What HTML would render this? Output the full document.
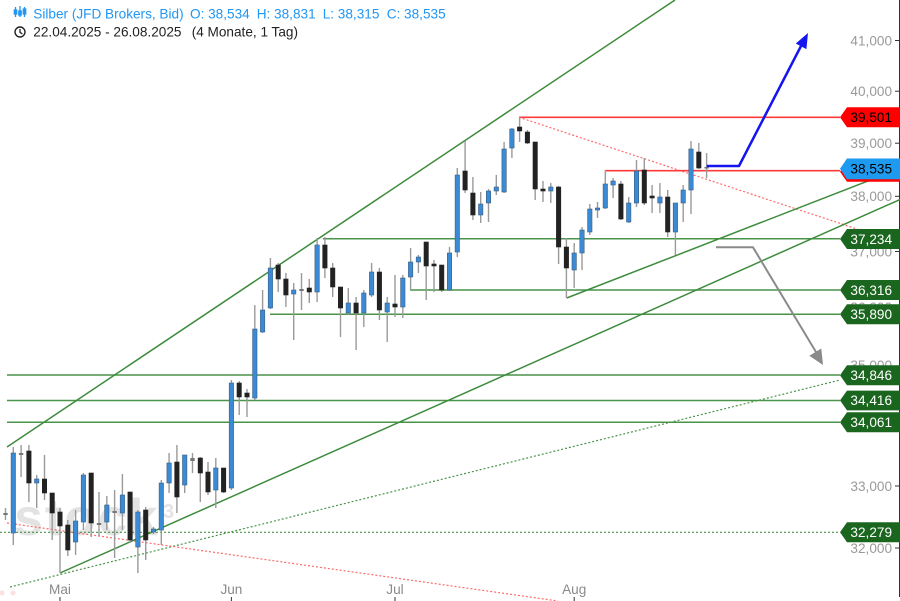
<!DOCTYPE html>
<html><head><meta charset="utf-8"><style>
html,body{margin:0;padding:0;background:#fff;}
svg{display:block;font-family:"Liberation Sans",Arial,sans-serif;}
.w{stroke:#9a9a9a;stroke-width:1.4}
.b{fill:#3a8ad6;stroke:#3d5f80;stroke-width:.6}
.k{fill:#222;stroke:#222;stroke-width:.6}
.d{fill:#777}
.gl{stroke:#4a944a;stroke-width:1.5;fill:none}
.ch{stroke:#3d8b3d;stroke-width:1.5;fill:none}
.tk{fill:#9a9a9a;font-size:13.6px;text-anchor:end}
.lb{font-size:13.6px;text-anchor:end}
</style></head><body>
<svg width="900" height="601" viewBox="0 0 900 601" xmlns="http://www.w3.org/2000/svg">
<rect width="900" height="601" fill="#fff"/>
<!-- watermark -->
<text x="14" y="535" font-size="52" font-weight="bold" fill="#e3e3e3" letter-spacing="2">stock</text>
<text x="163" y="518" font-size="20" font-weight="bold" fill="#e3e3e3">3</text>
<circle cx="2" cy="593" r="2.5" fill="#fde0e0"/><circle cx="13" cy="593" r="2.5" fill="#fde0e0"/>

<!-- y tick labels -->
<text class="tk" x="892" y="45.3">41,000</text>
<text class="tk" x="892" y="96">40,000</text>
<text class="tk" x="892" y="148">39,000</text>
<text class="tk" x="892" y="201">38,000</text>
<text class="tk" x="892" y="256.3">37,000</text>
<text class="tk" x="892" y="311.8">36,000</text>
<text class="tk" x="892" y="369.8">35,000</text>
<text class="tk" x="892" y="429.8">34,000</text>
<text class="tk" x="892" y="490.8">33,000</text>
<text class="tk" x="892" y="552.8">32,000</text>
<g stroke="#333" stroke-width="1">
<line x1="895" y1="40.5" x2="899" y2="40.5"/><line x1="895" y1="91.2" x2="899" y2="91.2"/>
<line x1="895" y1="143.2" x2="899" y2="143.2"/><line x1="895" y1="196.3" x2="899" y2="196.3"/>
<line x1="895" y1="251.5" x2="899" y2="251.5"/><line x1="895" y1="486" x2="899" y2="486"/>
<line x1="895" y1="548" x2="899" y2="548"/>
<line x1="899.5" y1="0" x2="899.5" y2="597"/>
</g>

<!-- horizontal lines -->
<line class="gl" x1="323" y1="238.8" x2="840" y2="238.8"/>
<line class="gl" x1="410" y1="290" x2="840" y2="290"/>
<line class="gl" x1="270" y1="314.2" x2="840" y2="314.2"/>
<line class="gl" x1="7" y1="375" x2="840" y2="375"/>
<line class="gl" x1="7" y1="400.5" x2="840" y2="400.5"/>
<line class="gl" x1="7" y1="422.3" x2="840" y2="422.3"/>
<line x1="0" y1="532.3" x2="840" y2="532.3" stroke="#4a944a" stroke-width="1.2" stroke-dasharray="2,2"/>
<line x1="10" y1="587" x2="840" y2="380" stroke="#4a944a" stroke-width="1.2" stroke-dasharray="2,2"/>
<line x1="7" y1="523" x2="558" y2="601" stroke="#ff6b6b" stroke-width="1.2" stroke-dasharray="2,2"/>
<line x1="519" y1="117.3" x2="860" y2="230" stroke="#ff6b6b" stroke-width="1.2" stroke-dasharray="2,2"/>
<line x1="519" y1="117.3" x2="840" y2="117.3" stroke="#ff3a3a" stroke-width="1.6"/>
<line x1="605" y1="170.7" x2="840" y2="170.7" stroke="#ff3a3a" stroke-width="1.6"/>
<!-- channel lines -->
<line class="ch" x1="7" y1="447" x2="675" y2="0"/>
<line class="ch" x1="60" y1="573" x2="900" y2="199.5"/>
<line class="ch" x1="566.7" y1="298" x2="900" y2="168.5"/>

<!-- candles -->
<g>
<g transform="translate(5.5)"><line class="w" y1="508" y2="520"/><rect class="d" x="-2.2" y="513" width="4.4" height="2"/></g>
<g transform="translate(13.3)"><line class="w" y1="447" y2="545"/><rect class="b" x="-2.2" y="453" width="4.4" height="80"/></g>
<g transform="translate(21.1)"><line class="w" y1="445" y2="477"/><rect class="d" x="-2.2" y="453" width="4.4" height="2"/></g>
<g transform="translate(28.9)"><line class="w" y1="445" y2="502"/><rect class="k" x="-2.2" y="451" width="4.4" height="32"/></g>
<g transform="translate(36.7)"><line class="w" y1="475" y2="508"/><rect class="b" x="-2.2" y="479" width="4.4" height="4"/></g>
<g transform="translate(44.5)"><line class="w" y1="455" y2="500"/><rect class="k" x="-2.2" y="479" width="4.4" height="14"/></g>
<g transform="translate(52.2)"><line class="w" y1="493" y2="540"/><rect class="k" x="-2.2" y="493" width="4.4" height="20"/></g>
<g transform="translate(60.0)"><line class="w" y1="508" y2="573"/><rect class="k" x="-2.2" y="512" width="4.4" height="14"/></g>
<g transform="translate(67.8)"><line class="w" y1="520" y2="556"/><rect class="k" x="-2.2" y="525" width="4.4" height="25"/></g>
<g transform="translate(75.6)"><line class="w" y1="510" y2="555"/><rect class="b" x="-2.2" y="521" width="4.4" height="21"/></g>
<g transform="translate(83.4)"><line class="w" y1="473" y2="530"/><rect class="b" x="-2.2" y="475" width="4.4" height="47"/></g>
<g transform="translate(91.2)"><line class="w" y1="473" y2="537"/><rect class="k" x="-2.2" y="473" width="4.4" height="50"/></g>
<g transform="translate(99.0)"><line class="w" y1="492" y2="536"/><rect class="d" x="-2.2" y="523" width="4.4" height="2"/></g>
<g transform="translate(106.8)"><line class="w" y1="496" y2="530"/><rect class="b" x="-2.2" y="505" width="4.4" height="17"/></g>
<g transform="translate(114.6)"><line class="w" y1="490" y2="558"/><rect class="d" x="-2.2" y="511" width="4.4" height="2"/></g>
<g transform="translate(122.4)"><line class="w" y1="474" y2="530"/><rect class="b" x="-2.2" y="495" width="4.4" height="18"/></g>
<g transform="translate(130.1)"><line class="w" y1="492" y2="543"/><rect class="k" x="-2.2" y="492" width="4.4" height="48"/></g>
<g transform="translate(137.9)"><line class="w" y1="510" y2="573"/><rect class="b" x="-2.2" y="512" width="4.4" height="35"/></g>
<g transform="translate(145.7)"><line class="w" y1="507" y2="560"/><rect class="k" x="-2.2" y="510" width="4.4" height="30"/></g>
<g transform="translate(153.5)"><line class="w" y1="527" y2="534"/><rect class="b" x="-2.2" y="529" width="4.4" height="3"/></g>
<g transform="translate(161.3)"><line class="w" y1="480" y2="545"/><rect class="b" x="-2.2" y="483" width="4.4" height="47"/></g>
<g transform="translate(169.1)"><line class="w" y1="453" y2="493"/><rect class="b" x="-2.2" y="463" width="4.4" height="20"/></g>
<g transform="translate(176.9)"><line class="w" y1="445" y2="513"/><rect class="k" x="-2.2" y="462" width="4.4" height="35"/></g>
<g transform="translate(184.7)"><line class="w" y1="455" y2="493"/><rect class="b" x="-2.2" y="455" width="4.4" height="30"/></g>
<g transform="translate(192.5)"><line class="w" y1="453" y2="473"/><rect class="d" x="-2.2" y="458" width="4.4" height="3"/></g>
<g transform="translate(200.3)"><line class="w" y1="457" y2="502"/><rect class="k" x="-2.2" y="458" width="4.4" height="15"/></g>
<g transform="translate(208.0)"><line class="w" y1="462" y2="495"/><rect class="k" x="-2.2" y="472" width="4.4" height="20"/></g>
<g transform="translate(215.8)"><line class="w" y1="458" y2="508"/><rect class="b" x="-2.2" y="468" width="4.4" height="22"/></g>
<g transform="translate(223.6)"><line class="w" y1="468" y2="493"/><rect class="k" x="-2.2" y="468" width="4.4" height="24"/></g>
<g transform="translate(231.4)"><line class="w" y1="380" y2="490"/><rect class="b" x="-2.2" y="383" width="4.4" height="105"/></g>
<g transform="translate(239.2)"><line class="w" y1="381" y2="415"/><rect class="k" x="-2.2" y="383" width="4.4" height="14"/></g>
<g transform="translate(247.0)"><line class="w" y1="389" y2="417"/><rect class="k" x="-2.2" y="393" width="4.4" height="4"/></g>
<g transform="translate(254.8)"><line class="w" y1="305" y2="400"/><rect class="b" x="-2.2" y="329" width="4.4" height="69"/></g>
<g transform="translate(262.6)"><line class="w" y1="290" y2="333"/><rect class="b" x="-2.2" y="310" width="4.4" height="22"/></g>
<g transform="translate(270.4)"><line class="w" y1="258" y2="309"/><rect class="b" x="-2.2" y="268" width="4.4" height="40"/></g>
<g transform="translate(278.2)"><line class="w" y1="263" y2="292"/><rect class="k" x="-2.2" y="265" width="4.4" height="14"/></g>
<g transform="translate(285.9)"><line class="w" y1="273" y2="307"/><rect class="k" x="-2.2" y="279" width="4.4" height="16"/></g>
<g transform="translate(293.7)"><line class="w" y1="283" y2="340"/><rect class="b" x="-2.2" y="290" width="4.4" height="4"/></g>
<g transform="translate(301.5)"><line class="w" y1="273" y2="310"/><rect class="d" x="-2.2" y="289" width="4.4" height="2"/></g>
<g transform="translate(309.3)"><line class="w" y1="279" y2="303"/><rect class="k" x="-2.2" y="288" width="4.4" height="4"/></g>
<g transform="translate(317.1)"><line class="w" y1="238" y2="302"/><rect class="b" x="-2.2" y="245" width="4.4" height="47"/></g>
<g transform="translate(324.9)"><line class="w" y1="237" y2="278"/><rect class="k" x="-2.2" y="245" width="4.4" height="23"/></g>
<g transform="translate(332.7)"><line class="w" y1="263" y2="297"/><rect class="k" x="-2.2" y="268" width="4.4" height="19"/></g>
<g transform="translate(340.5)"><line class="w" y1="287" y2="337"/><rect class="k" x="-2.2" y="287" width="4.4" height="21"/></g>
<g transform="translate(348.3)"><line class="w" y1="288" y2="315"/><rect class="b" x="-2.2" y="303" width="4.4" height="10"/></g>
<g transform="translate(356.1)"><line class="w" y1="297" y2="350"/><rect class="k" x="-2.2" y="303" width="4.4" height="10"/></g>
<g transform="translate(363.8)"><line class="w" y1="290" y2="327"/><rect class="b" x="-2.2" y="293" width="4.4" height="20"/></g>
<g transform="translate(371.6)"><line class="w" y1="263" y2="297"/><rect class="b" x="-2.2" y="272" width="4.4" height="23"/></g>
<g transform="translate(379.4)"><line class="w" y1="268" y2="320"/><rect class="k" x="-2.2" y="272" width="4.4" height="38"/></g>
<g transform="translate(387.2)"><line class="w" y1="297" y2="342"/><rect class="b" x="-2.2" y="303" width="4.4" height="9"/></g>
<g transform="translate(395.0)"><line class="w" y1="275" y2="317"/><rect class="k" x="-2.2" y="304" width="4.4" height="3"/></g>
<g transform="translate(402.8)"><line class="w" y1="275" y2="318"/><rect class="b" x="-2.2" y="278" width="4.4" height="29"/></g>
<g transform="translate(410.6)"><line class="w" y1="248" y2="290"/><rect class="b" x="-2.2" y="262" width="4.4" height="15"/></g>
<g transform="translate(418.4)"><line class="w" y1="255" y2="273"/><rect class="b" x="-2.2" y="257" width="4.4" height="5"/></g>
<g transform="translate(426.2)"><line class="w" y1="242" y2="300"/><rect class="k" x="-2.2" y="242" width="4.4" height="24"/></g>
<g transform="translate(434.0)"><line class="w" y1="260" y2="292"/><rect class="k" x="-2.2" y="264" width="4.4" height="2"/></g>
<g transform="translate(441.7)"><line class="w" y1="265" y2="292"/><rect class="k" x="-2.2" y="265" width="4.4" height="25"/></g>
<g transform="translate(449.5)"><line class="w" y1="247" y2="291"/><rect class="b" x="-2.2" y="253" width="4.4" height="37"/></g>
<g transform="translate(457.3)"><line class="w" y1="168" y2="257"/><rect class="b" x="-2.2" y="175" width="4.4" height="77"/></g>
<g transform="translate(465.1)"><line class="w" y1="141" y2="193"/><rect class="k" x="-2.2" y="171" width="4.4" height="19"/></g>
<g transform="translate(472.9)"><line class="w" y1="177" y2="220"/><rect class="k" x="-2.2" y="193" width="4.4" height="22"/></g>
<g transform="translate(480.7)"><line class="w" y1="192" y2="223"/><rect class="b" x="-2.2" y="204" width="4.4" height="11"/></g>
<g transform="translate(488.5)"><line class="w" y1="189" y2="222"/><rect class="b" x="-2.2" y="191" width="4.4" height="12"/></g>
<g transform="translate(496.3)"><line class="w" y1="175" y2="195"/><rect class="b" x="-2.2" y="187" width="4.4" height="4"/></g>
<g transform="translate(504.1)"><line class="w" y1="142" y2="193"/><rect class="b" x="-2.2" y="149" width="4.4" height="43"/></g>
<g transform="translate(511.9)"><line class="w" y1="128" y2="158"/><rect class="b" x="-2.2" y="129" width="4.4" height="19"/></g>
<g transform="translate(519.6)"><line class="w" y1="117" y2="142"/><rect class="k" x="-2.2" y="127" width="4.4" height="4"/></g>
<g transform="translate(527.4)"><line class="w" y1="130" y2="144"/><rect class="k" x="-2.2" y="132" width="4.4" height="11"/></g>
<g transform="translate(535.2)"><line class="w" y1="142" y2="200"/><rect class="k" x="-2.2" y="142" width="4.4" height="47"/></g>
<g transform="translate(543.0)"><line class="w" y1="181" y2="202"/><rect class="k" x="-2.2" y="189" width="4.4" height="2"/></g>
<g transform="translate(550.8)"><line class="w" y1="183" y2="203"/><rect class="b" x="-2.2" y="187" width="4.4" height="4"/></g>
<g transform="translate(558.6)"><line class="w" y1="186" y2="264"/><rect class="k" x="-2.2" y="187" width="4.4" height="60"/></g>
<g transform="translate(566.4)"><line class="w" y1="238" y2="298"/><rect class="k" x="-2.2" y="247" width="4.4" height="21"/></g>
<g transform="translate(574.2)"><line class="w" y1="243" y2="288"/><rect class="b" x="-2.2" y="253" width="4.4" height="17"/></g>
<g transform="translate(582.0)"><line class="w" y1="227" y2="270"/><rect class="b" x="-2.2" y="230" width="4.4" height="23"/></g>
<g transform="translate(589.8)"><line class="w" y1="204" y2="235"/><rect class="b" x="-2.2" y="209" width="4.4" height="23"/></g>
<g transform="translate(597.5)"><line class="w" y1="202" y2="218"/><rect class="b" x="-2.2" y="208" width="4.4" height="2"/></g>
<g transform="translate(605.3)"><line class="w" y1="170" y2="209"/><rect class="b" x="-2.2" y="184" width="4.4" height="24"/></g>
<g transform="translate(613.1)"><line class="w" y1="178" y2="198"/><rect class="b" x="-2.2" y="181" width="4.4" height="4"/></g>
<g transform="translate(620.9)"><line class="w" y1="181" y2="220"/><rect class="k" x="-2.2" y="184" width="4.4" height="35"/></g>
<g transform="translate(628.7)"><line class="w" y1="197" y2="223"/><rect class="b" x="-2.2" y="203" width="4.4" height="19"/></g>
<g transform="translate(636.5)"><line class="w" y1="160" y2="207"/><rect class="b" x="-2.2" y="171" width="4.4" height="32"/></g>
<g transform="translate(644.3)"><line class="w" y1="158" y2="205"/><rect class="k" x="-2.2" y="170" width="4.4" height="33"/></g>
<g transform="translate(652.1)"><line class="w" y1="185" y2="213"/><rect class="k" x="-2.2" y="196" width="4.4" height="2"/></g>
<g transform="translate(659.9)"><line class="w" y1="183" y2="213"/><rect class="b" x="-2.2" y="197" width="4.4" height="6"/></g>
<g transform="translate(667.7)"><line class="w" y1="190" y2="237"/><rect class="k" x="-2.2" y="197" width="4.4" height="35"/></g>
<g transform="translate(675.4)"><line class="w" y1="203" y2="255"/><rect class="b" x="-2.2" y="203" width="4.4" height="29"/></g>
<g transform="translate(683.2)"><line class="w" y1="185" y2="222"/><rect class="b" x="-2.2" y="190" width="4.4" height="13"/></g>
<g transform="translate(691.0)"><line class="w" y1="141" y2="214"/><rect class="b" x="-2.2" y="149" width="4.4" height="41"/></g>
<g transform="translate(698.8)"><line class="w" y1="143" y2="169"/><rect class="k" x="-2.2" y="152" width="4.4" height="16"/></g>
<g transform="translate(706.6)"><line class="w" y1="153" y2="178"/><rect class="d" x="-2.2" y="167" width="4.4" height="1.5"/></g>
</g>

<!-- arrows -->
<polyline points="706.7,166 739,166 801,46" fill="none" stroke="#1515f0" stroke-width="2.5" stroke-linejoin="round"/>
<polygon points="808,33 806.4,49.1 795.8,43.5" fill="#1515f0"/>
<polyline points="716,247.3 753,247.3 816,352" fill="none" stroke="#8a8a8a" stroke-width="2" stroke-linejoin="round"/>
<polygon points="823,365 821.3,348.5 809.3,355.7" fill="#8a8a8a"/>

<!-- price labels -->
<polygon points="840,117.3 847,107.3 900,107.3 900,127.3 847,127.3" fill="#ff0000"/>
<text class="lb" x="892" y="122.1" fill="#000">39,501</text>
<polygon points="840,171.8 847,161.8 900,161.8 900,181.8 847,181.8" fill="#ff0000"/>
<polygon points="840,168.8 847,158.5 900,158.5 900,179.3 847,179.3" fill="#1e9bf0"/>
<text class="lb" x="892" y="173.6" fill="#000">38,535</text>
<g fill="#1b661f">
<polygon points="840,239 847,229 900,229 900,249 847,249"/>
<polygon points="840,290 847,280 900,280 900,300 847,300"/>
<polygon points="840,314.2 847,304.2 900,304.2 900,324.2 847,324.2"/>
<polygon points="840,375.3 847,365.3 900,365.3 900,385.3 847,385.3"/>
<polygon points="840,400.4 847,390.6 900,390.6 900,410.4 847,410.4"/>
<polygon points="840,422.3 847,412.3 900,412.3 900,432.3 847,432.3"/>
<polygon points="840,532.3 847,522.3 900,522.3 900,542.3 847,542.3"/>
</g>
<g fill="#fff">
<text class="lb" x="892" y="243.8">37,234</text>
<text class="lb" x="892" y="294.8">36,316</text>
<text class="lb" x="892" y="319">35,890</text>
<text class="lb" x="892" y="380.1">34,846</text>
<text class="lb" x="892" y="405.2">34,416</text>
<text class="lb" x="892" y="427.1">34,061</text>
<text class="lb" x="892" y="537.1">32,279</text>
</g>

<!-- x axis -->
<g fill="#8a8a8a" font-size="13.6" text-anchor="middle">
<text x="60" y="594">Mai</text>
<text x="231.4" y="594">Jun</text>
<text x="395" y="594">Jul</text>
<text x="574.2" y="594">Aug</text>
</g>
<g stroke="#333" stroke-width="1">
<line x1="60" y1="597" x2="60" y2="601"/>
<line x1="231.4" y1="597" x2="231.4" y2="601"/>
<line x1="395" y1="597" x2="395" y2="601"/>
<line x1="574.2" y1="597" x2="574.2" y2="601"/>
</g>

<!-- header -->
<g stroke="#2196f3" stroke-width="1.3" fill="#2196f3">
<line x1="15.5" y1="7" x2="15.5" y2="17"/><rect x="14.3" y="10" width="2.4" height="4"/>
<line x1="20" y1="6" x2="20" y2="17"/><rect x="18.8" y="11" width="2.4" height="4"/>
<line x1="24.5" y1="7" x2="24.5" y2="17"/><rect x="23.3" y="9" width="2.4" height="5"/>
</g>
<g fill="#2196f3" font-size="13.6">
<text x="33.3" y="18.3">Silber (JFD Brokers, Bid)</text>
<text x="190" y="18.3">O: 38,534</text>
<text x="256.7" y="18.3">H: 38,831</text>
<text x="322.7" y="18.3">L: 38,315</text>
<text x="386.7" y="18.3">C: 38,535</text>
</g>
<circle cx="20" cy="32" r="5" fill="none" stroke="#222" stroke-width="1.4"/>
<polyline points="20,29 20,32.3 22.3,34" fill="none" stroke="#222" stroke-width="1.3"/>
<g fill="#222" font-size="13.6">
<text x="33.3" y="36.7">22.04.2025 - 26.08.2025</text>
<text x="191.7" y="36.7">(4 Monate, 1 Tag)</text>
</g>
</svg>
</body></html>
